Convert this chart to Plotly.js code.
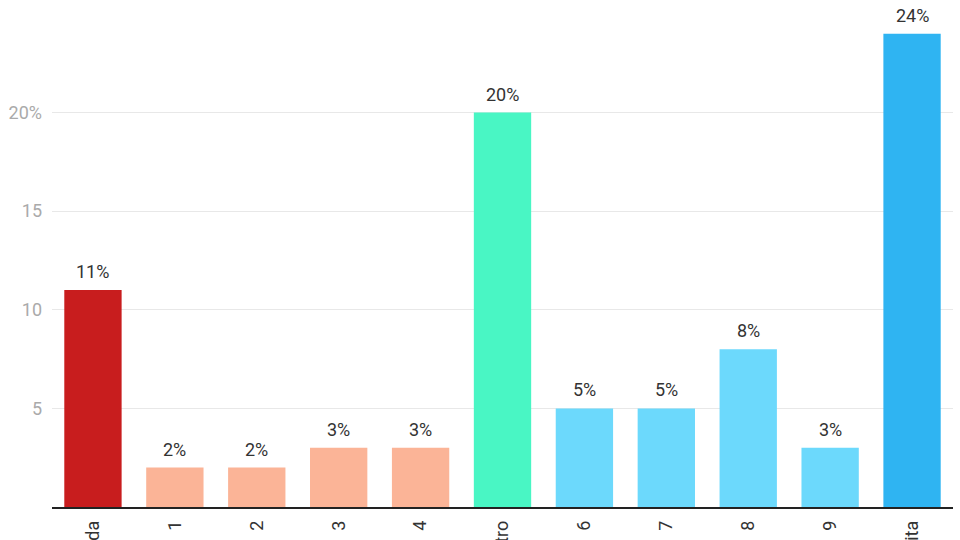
<!DOCTYPE html>
<html>
<head>
<meta charset="utf-8">
<script src="https://cdn.plot.ly/plotly-3.0.1.min.js"></script>
<style>
    html, body { margin: 0; padding: 0; background: #fff; }
    #chart { width: 960px; height: 540px; }
</style>
</head>
<body>
<div id="chart"></div>
<script>
    // escala esquerda-direita, percentagem de respostas
    var categorias = ['Esquerda', '1', '2', '3', '4', 'Centro', '6', '7', '8', '9', 'Direita'];
    var valores = [11, 2, 2, 3, 3, 20, 5, 5, 8, 3, 24];
    var cores = ['#c81d1e', '#fbb497', '#fbb497', '#fbb497', '#fbb497', '#49f6c4',
                 '#6cd9fc', '#6cd9fc', '#6cd9fc', '#6cd9fc', '#2fb4f2'];
    var yTicks = [5, 10, 15, 20];
    var yTickText = ['5', '10', '15', '20%'];

    var trace = {
        type: 'bar',
        x: categorias,
        y: valores,
        marker: { color: cores },
        hoverinfo: 'none'
    };

    // rótulos por cima das barras
    var rotulos = categorias.map( ( c, i ) => ( {
        x: c,
        y: valores[i],
        text: valores[i] + '%',
        showarrow: false,
        xanchor: 'center',
        yanchor: 'bottom',
        yshift: 6,
        font: { family: 'Roboto, sans-serif', size: 18, color: '#333' }
    } ) );

    var layout = {
        width: 960,
        height: 540,
        margin: { l: 52, r: 7, t: 10, b: 33 },
        paper_bgcolor: '#fff',
        plot_bgcolor: '#fff',
        bargap: 0.3,
        showlegend: false,
        font: { family: 'Roboto, sans-serif' },
        annotations: rotulos,
        xaxis: {
            type: 'category',
            automargin: false,
            tickangle: -90,
            ticks: '',
            ticklen: 0,
            ticklabelstandoff: 5,
            tickfont: { size: 18, color: '#333' },
            showline: true,
            linecolor: '#222',
            linewidth: 1.5,
            showgrid: false
        },
        yaxis: {
            range: [0, 25.2],
            automargin: false,
            tickvals: yTicks,
            ticktext: yTickText,
            tickfont: { size: 18, color: '#aaa' },
            showgrid: true,
            gridcolor: '#e8e8e8',
            gridwidth: 1,
            zeroline: false,
            showline: false,
            ticks: '',
            ticklabelstandoff: 9
        }
    };

    Plotly.newPlot('chart', [trace], layout, { staticPlot: true, displayModeBar: false });
</script>
</body>
</html>
